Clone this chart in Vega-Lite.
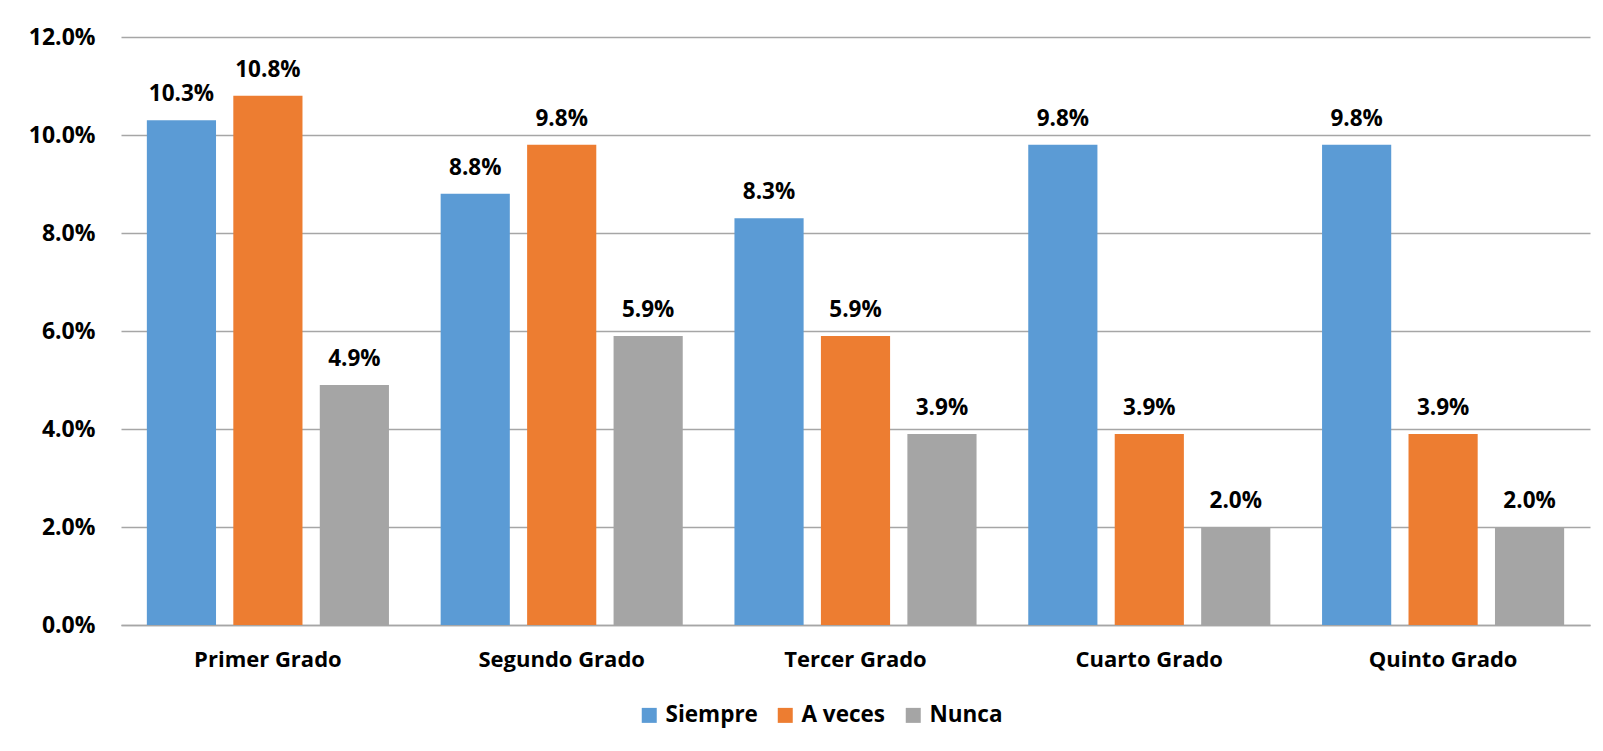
{
  "$schema": "https://vega.github.io/schema/vega-lite/v6.json",
  "width": 1469,
  "height": 588,
  "autosize": {"type": "none"},
  "padding": {"left": 121, "top": 37, "right": 13, "bottom": 126},
  "background": "white",
  "config": {
    "view": {"stroke": null},
    "font": "Open Sans",
    "axis": {"labelFont": "Open Sans", "labelFontWeight": "bold", "labelFontSize": 22, "labelColor": "#000000"},
    "legend": {"labelFont": "Open Sans", "labelFontWeight": "bold", "labelFontSize": 22.5, "labelColor": "#000000"}
  },
  "data": {
    "values": [
      {"grado": "Primer Grado", "respuesta": "Siempre", "valor": 0.103},
      {"grado": "Primer Grado", "respuesta": "A veces", "valor": 0.108},
      {"grado": "Primer Grado", "respuesta": "Nunca", "valor": 0.049},
      {"grado": "Segundo Grado", "respuesta": "Siempre", "valor": 0.088},
      {"grado": "Segundo Grado", "respuesta": "A veces", "valor": 0.098},
      {"grado": "Segundo Grado", "respuesta": "Nunca", "valor": 0.059},
      {"grado": "Tercer Grado", "respuesta": "Siempre", "valor": 0.083},
      {"grado": "Tercer Grado", "respuesta": "A veces", "valor": 0.059},
      {"grado": "Tercer Grado", "respuesta": "Nunca", "valor": 0.039},
      {"grado": "Cuarto Grado", "respuesta": "Siempre", "valor": 0.098},
      {"grado": "Cuarto Grado", "respuesta": "A veces", "valor": 0.039},
      {"grado": "Cuarto Grado", "respuesta": "Nunca", "valor": 0.020},
      {"grado": "Quinto Grado", "respuesta": "Siempre", "valor": 0.098},
      {"grado": "Quinto Grado", "respuesta": "A veces", "valor": 0.039},
      {"grado": "Quinto Grado", "respuesta": "Nunca", "valor": 0.020}
    ]
  },
  "encoding": {
    "x": {
      "field": "grado", "type": "nominal", "sort": null,
      "scale": {"paddingInner": 0.176, "paddingOuter": 0.088},
      "axis": {"title": null, "labelAngle": 0, "ticks": false, "domainColor": "#a6a6a6", "domainWidth": 1.5, "labelPadding": 24, "grid": false}
    },
    "xOffset": {
      "field": "respuesta", "type": "nominal", "sort": ["Siempre", "A veces", "Nunca"],
      "scale": {"paddingInner": 0.2, "paddingOuter": 0}
    },
    "y": {
      "field": "valor", "type": "quantitative",
      "scale": {"domain": [0, 0.12], "nice": false},
      "axis": {"title": null, "format": ".1%", "values": [0, 0.02, 0.04, 0.06, 0.08, 0.1, 0.12], "ticks": false, "domain": false, "gridColor": "#a6a6a6", "gridWidth": 1.5, "labelPadding": 26, "labelFontSize": 23}
    }
  },
  "layer": [
    {
      "mark": {"type": "bar"},
      "encoding": {
        "color": {
          "field": "respuesta", "type": "nominal",
          "scale": {"domain": ["Siempre", "A veces", "Nunca"], "range": ["#5B9BD5", "#ED7D31", "#A5A5A5"]},
          "legend": {
            "title": null, "orient": "none", "direction": "horizontal",
            "legendX": 517, "legendY": 667,
            "symbolType": "square", "symbolSize": 225, "symbolStrokeWidth": 0,
            "labelOffset": 5, "columnPadding": 16
          }
        }
      }
    },
    {
      "mark": {"type": "text", "baseline": "alphabetic", "dy": -19, "fontSize": 22.5, "fontWeight": "bold", "font": "Open Sans", "color": "#000000"},
      "encoding": {
        "text": {"field": "valor", "type": "quantitative", "format": ".1%"}
      }
    }
  ]
}
